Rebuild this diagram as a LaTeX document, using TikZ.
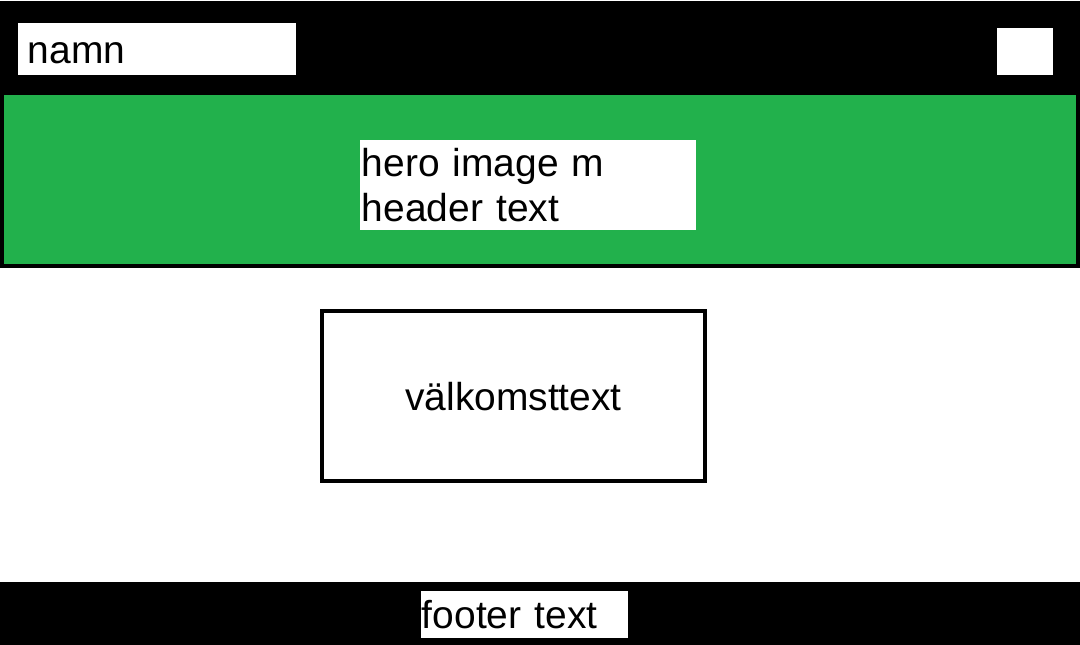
\documentclass[tikz,border=0pt]{standalone}
\usepackage{fontspec}
\setmainfont{Liberation Sans}
\definecolor{herogreen}{RGB}{34,177,76}
\begin{document}
\begin{tikzpicture}[x=0.025cm,y=-0.025cm,
  font=\fontsize{27.7}{31.9}\selectfont,
  whitebox/.style={fill=white,inner ysep=0pt,align=left},
  oneline/.style={text height=0.7cm,text depth=0pt}]
\useasboundingbox (0,0) rectangle (1080,645);
\fill (0,1) rectangle (1080,95);
\draw[line width=0.1cm,fill=herogreen] (2,93) rectangle (1078,266);
\fill (0,582) rectangle (1080,645);

\node[whitebox,oneline,minimum width=6.95cm,minimum height=1.3cm,inner xsep=0.25cm,text width=6.45cm] (namn) at (157,49) {namn};
\node[whitebox,minimum width=1.4cm,minimum height=1.175cm,inner sep=0pt] (menu) at (1025,51.5) {};
\node[whitebox,minimum width=8.4cm,minimum height=2.25cm,inner xsep=0.05cm,text width=8.3cm] (hero) at (528,185) {hero image m\\header text};
\node[draw,line width=0.1cm,oneline,minimum width=9.575cm,minimum height=4.25cm] (welcome) at (513.5,396) {välkomsttext};
\node[whitebox,oneline,minimum width=5.175cm,minimum height=1.175cm,inner xsep=0.025cm,text width=5.125cm] (footer) at (524.5,614.5) {footer text};
\end{tikzpicture}
\end{document}
